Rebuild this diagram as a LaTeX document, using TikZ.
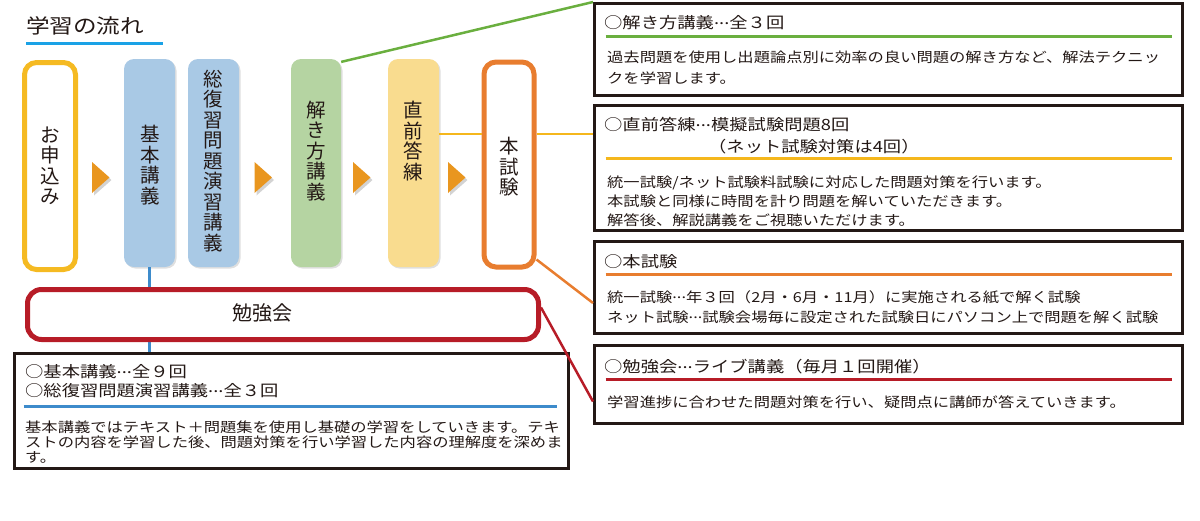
\documentclass[tikz,border=0pt]{standalone}
\usepackage{fontspec}
\usepackage{tikz}
\usetikzlibrary{shadows}
\newfontfamily\jp{Noto Sans CJK JP}
\newfontfamily\jpw[FakeStretch=1.18]{Noto Sans CJK JP}
\newcommand{\tenten}{\hbox to 1em{\hss\raisebox{.3em}{.}\hss\raisebox{.3em}{.}\hss\raisebox{.3em}{.}\hss}}
\definecolor{inkblack}{HTML}{231815}
\definecolor{stepblue}{HTML}{A9C9E5}
\definecolor{stepgreen}{HTML}{B5D4A2}
\definecolor{stepyellow}{HTML}{F9DC8F}
\definecolor{applyyellow}{HTML}{F5BA22}
\definecolor{examorange}{HTML}{E87D2F}
\definecolor{studyred}{HTML}{B71C27}
\definecolor{linegreen}{HTML}{6AAF3F}
\definecolor{lineyellow}{HTML}{F5B71C}
\definecolor{lineblue}{HTML}{3D8BCB}
\definecolor{titleblue}{HTML}{1AA2E6}
\definecolor{arroworange}{HTML}{E9961F}

\begin{document}
\begin{tikzpicture}[x=1pt, y=-1pt, every node/.style={inner sep=0pt, text=inkblack}]
        \useasboundingbox (0,0) rectangle (1200,520);
        \tikzset{stepfill/.style={rounded corners=10pt, minimum width=51pt, minimum height=208pt,
                 drop shadow={shadow xshift=1.5pt, shadow yshift=-1.5pt, opacity=0.25}}};
        \tikzset{stepline/.style={draw=#1, line width=5pt, fill=white, rounded corners=12pt,
                 minimum width=51pt, minimum height=207pt}};
        \tikzset{vtext/.style={font=\jp\fontsize{19.5}{20.5}\selectfont, align=center}};
        \tikzset{steparrow/.style={fill=arroworange,
                 drop shadow={shadow xshift=2pt, shadow yshift=-2.5pt, opacity=0.35}}};
        \tikzset{rbox/.style={draw=inkblack, line width=3pt, minimum width=588pt}};
        \tikzset{headtext/.style={anchor=west, align=left, font=\jpw\fontsize{15.5}{20}\selectfont}};
        \tikzset{bodytext/.style={anchor=west, align=left, font=\jpw\fontsize{13.8}{20}\selectfont}};
        \tikzset{rule/.style={line width=3pt}};
        \tikzset{link/.style={line width=2.5pt}};
        % title
        \node[anchor=west, font=\jpw\fontsize{20}{24}\selectfont] (title) at (26,26) {学習の流れ};
        \draw[titleblue, line width=3pt] ([yshift=-17pt]title.west) -- ++(137,0);
        % steps
        \node[stepline=applyyellow] (moushikomi) at (50,166) {};
        \node[stepfill, fill=stepblue] (kihon) at (149.5,163) {};
        \node[stepfill, fill=stepblue] (soufuku) at (213.5,163) {};
        \node[stepfill, fill=stepgreen, minimum width=50pt] (kaiki) at (316,163) {};
        \node[stepfill, fill=stepyellow] (chokuzen) at (413.5,163) {};
        \node[stepline=examorange, minimum width=50pt, minimum height=205pt] (honshiken) at (509,164.5) {};
        \node[vtext] (moushikomit) at (50,166) {お\\申\\込\\み};
        \node[vtext] (kihont) at (150,165) {基\\本\\講\\義};
        \node[vtext] (soufukut) at (213.5,161) {総\\復\\習\\問\\題\\演\\習\\講\\義};
        \node[vtext] (kaikit) at (316,151) {解\\き\\方\\講\\義};
        \node[vtext] (chokuzent) at (413.5,141) {直\\前\\答\\練};
        \node[vtext] (honshikent) at (509,167) {本\\試\\験};
        \foreach \x in {92,254.5,353,448}
          \fill[steparrow] (\x,162) -- (\x,193) -- (\x+17.5,177.5) -- cycle;
        % detail boxes
        \node[rbox, minimum height=92pt] (r1) at (888.5,49.5) {};
        \node[rbox, minimum height=125pt] (r2) at (888.5,168) {};
        \node[rbox, minimum height=92pt] (r3) at (888.5,287.5) {};
        \node[rbox, minimum height=78pt] (r4) at (888.5,384.5) {};
        \node[rbox, minimum width=554pt, minimum height=115pt] (lb) at (291.5,411) {};
        \node[headtext] (r1t) at (604,23) {○解き方講義\tenten 全３回};
        \node[bodytext, font=\jpw\fontsize{13.8}{21}\selectfont] (r1b) at (607,67.5)
          {過去問題を使用し出題論点別に効率の良い問題の解き方など、解法テクニッ\\クを学習します。};
        \node[headtext, font=\jpw\fontsize{15.5}{22}\selectfont] (r2t) at (604,136)
          {○直前答練\tenten 模擬試験問題8回\\\hspace*{104pt}（ネット試験対策は4回）};
        \node[bodytext, font=\jpw\fontsize{13.8}{19}\selectfont] (r2b) at (607,201)
          {統一試験/ネット試験料試験に対応した問題対策を行います。\\本試験と同様に時間を計り問題を解いていただきます。\\解答後、解説講義をご視聴いただけます。};
        \node[headtext] (r3t) at (604,262) {○本試験};
        \node[bodytext] (r3b) at (607,307)
          {統一試験\tenten 年３回（2月・6月・11月）に実施される紙で解く試験\\ネット試験\tenten 試験会場毎に設定された試験日にパソコン上で問題を解く試験};
        \node[headtext] (r4t) at (604,367) {○勉強会\tenten ライブ講義（毎月１回開催）};
        \node[bodytext] (r4b) at (607,402) {学習進捗に合わせた問題対策を行い、疑問点に講師が答えていきます。};
        \node[headtext, font=\jpw\fontsize{15.5}{19}\selectfont] (lbt) at (25,381.5)
          {○基本講義\tenten 全９回\\○総復習問題演習講義\tenten 全３回};
        \node[bodytext, font=\jpw\fontsize{13.8}{15}\selectfont] (lbb) at (25,442)
          {基本講義ではテキスト＋問題集を使用し基礎の学習をしていきます。テキ\\ストの内容を学習した後、問題対策を行い学習した内容の理解度を深めま\\す。};
        \draw[rule, linegreen] ([xshift=12.5pt,yshift=-34.5pt]r1.north west) -- ([xshift=-12.5pt,yshift=-34.5pt]r1.north east);
        \draw[rule, lineyellow] ([xshift=12.5pt,yshift=-54.5pt]r2.north west) -- ([xshift=-12.5pt,yshift=-54.5pt]r2.north east);
        \draw[rule, examorange] ([xshift=12.5pt,yshift=-34.5pt]r3.north west) -- ([xshift=-12.5pt,yshift=-34.5pt]r3.north east);
        \draw[rule, studyred] ([xshift=12.5pt,yshift=-35.5pt]r4.north west) -- ([xshift=-12.5pt,yshift=-35.5pt]r4.north east);
        \draw[rule, lineblue] ([xshift=10.5pt,yshift=-54.5pt]lb.north west) -- ([xshift=-13.5pt,yshift=-54.5pt]lb.north east);
        % links
        \draw[lineblue, line width=2.5pt] (kihon.south) -- (kihon.south |- lb.north);
        \node[draw=studyred, line width=5pt, fill=white, rounded corners=14pt,
              minimum width=511pt, minimum height=50pt] (benkyo) at (283,314.5) {};
        \node[font=\jp\fontsize{20}{24}\selectfont] (benkyot) at (262,313) {勉強会};
        \path ([yshift=29pt]chokuzen.east) coordinate (ya);
        \draw[link, lineyellow] (ya) -- (ya -| honshiken.west);
        \draw[link, lineyellow] (ya -| honshiken.east) -- (ya -| r2.west);
        \draw[link, linegreen] (kaiki.76) -- (r1.north west);
        \draw[link, examorange] ([yshift=10pt]honshiken.south east) -- ([yshift=-15.5pt]r3.west);
        \draw[link, studyred] ([yshift=7pt]benkyo.east) -- ([yshift=-17pt]r4.west);
      \end{tikzpicture}
\end{document}
